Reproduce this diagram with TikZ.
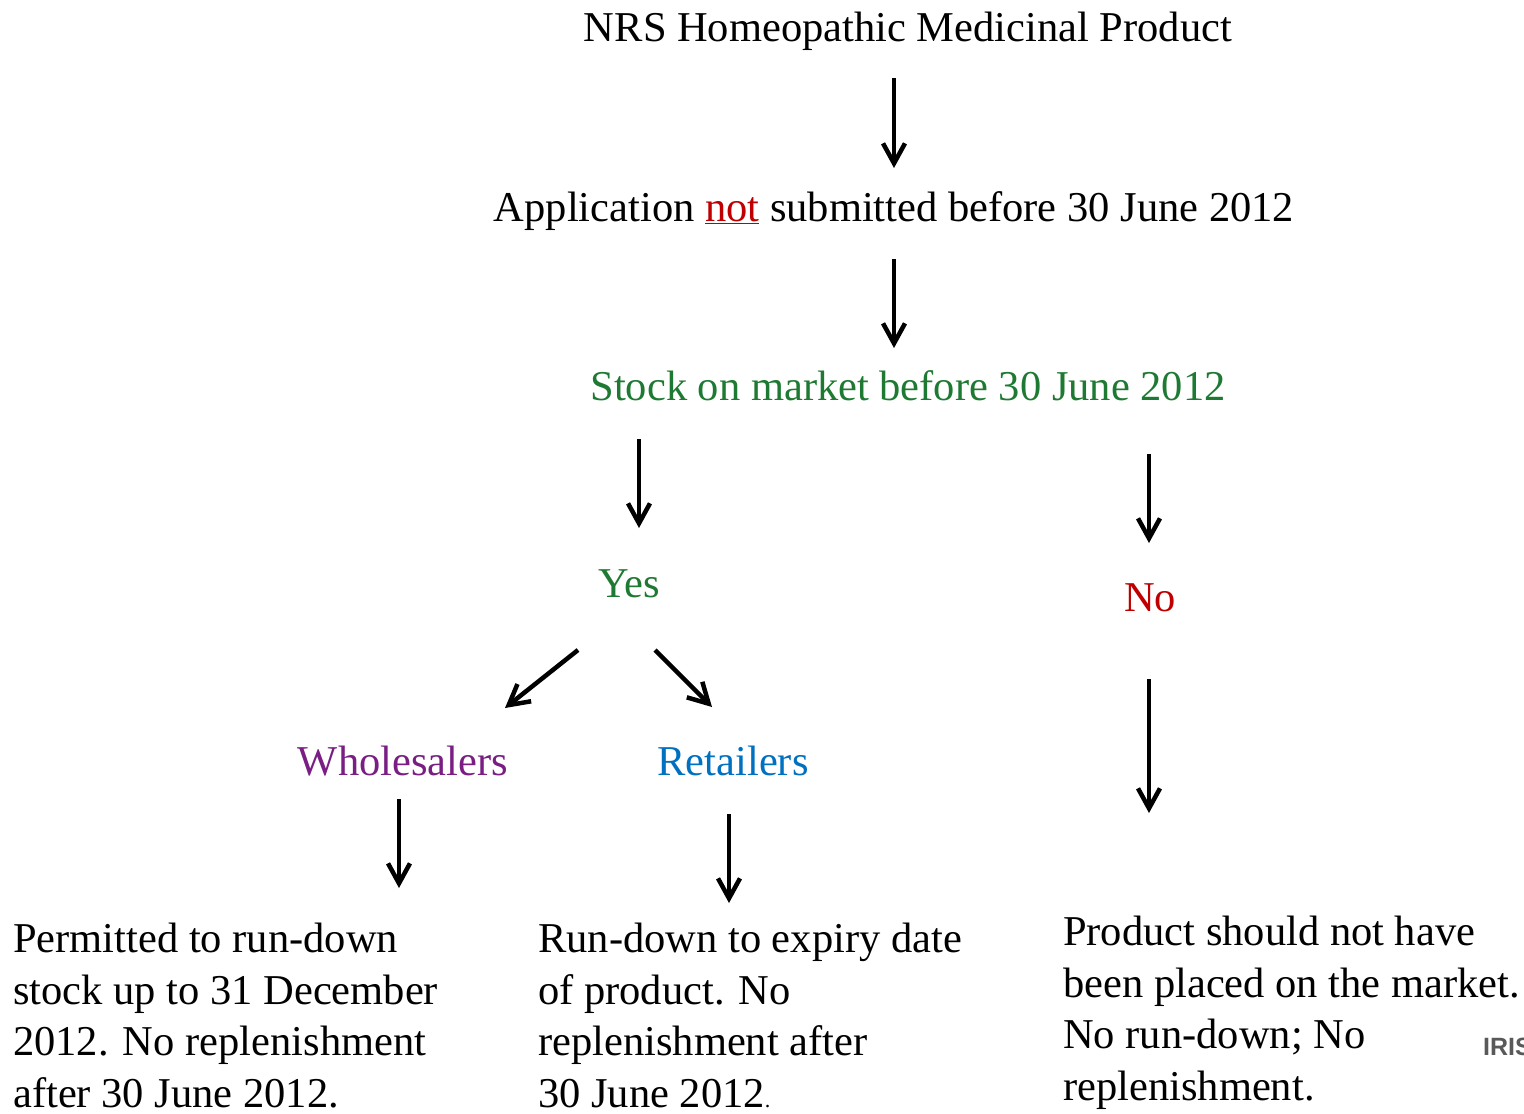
\documentclass[tikz,border=0pt]{standalone}
\usepackage{fontspec}
\setmainfont{Liberation Serif}
\newfontfamily\logofont{Liberation Sans}
\usetikzlibrary{arrows.meta}
\definecolor{cgreen}{RGB}{30,122,50}
\definecolor{cred}{RGB}{192,0,0}
\definecolor{cpurple}{RGB}{122,30,132}
\definecolor{cblue}{RGB}{0,112,192}
\tikzset{
  lbl/.style={inner sep=0pt, anchor=base, font=\fontsize{42.5pt}{51pt}\selectfont},
  blk/.style={inner sep=0pt, anchor=base west, align=left, font=\fontsize{42.5pt}{51.5pt}\selectfont},
  arr/.style={line width=4.5pt, -{Straight Barb[length=20pt,width=22pt,line width=4.5pt]}},
}
\begin{document}
\begin{tikzpicture}[x=1pt,y=-1pt]
\useasboundingbox (0,0) rectangle (1524,1114);
\node[lbl] (title) at (908,41) {NRS Homeopathic Medicinal Product};
\node[lbl] (app) at (894,221) {Application {\color{cred}\underline{not}} submitted before 30 June 2012};
\node[lbl, text=cgreen] (stock) at (908,400) {Stock on market before 30 June 2012};
\node[lbl, text=cgreen] (yes) at (629,597) {Yes};
\node[lbl, text=cred] (no) at (1150,611) {No};
\node[lbl, text=cpurple] (whole) at (403,775) {Wholesalers};
\node[lbl, text=cblue] (retail) at (733,775) {Retailers};
\node[blk] (wtext) at (13,1107) {Permitted to run-down\\stock up to 31 December\\2012. No replenishment\\after 30 June 2012.};
\node[blk] (rtext) at (538,1107) {Run-down to expiry date\\of product. No\\replenishment after\\30 June 2012{\fontsize{22pt}{22pt}\selectfont .}};
\node[blk] (ntext) at (1063,1100) {Product should not have\\been placed on the market.\\No run-down; No\\replenishment.};
\node[inner sep=0pt, anchor=west, text=black!65, font=\logofont\bfseries\fontsize{25pt}{25pt}\selectfont] (logo) at (1483,1047) {IRIS};
% arrow end points
\coordinate (a1s) at (894,78);  \coordinate (a1e) at (894,168);
\coordinate (a2s) at (894,259); \coordinate (a2e) at (894,348);
\coordinate (a3s) at (639,439); \coordinate (a3e) at (639,528);
\coordinate (a4s) at (1149,454); \coordinate (a4e) at (1149,543);
\coordinate (a5s) at (578,650); \coordinate (a5e) at (505,708);
\coordinate (a6s) at (655,650); \coordinate (a6e) at (712,707);
\coordinate (a7s) at (399,799); \coordinate (a7e) at (399,888);
\coordinate (a8s) at (729,814); \coordinate (a8e) at (729,903);
\coordinate (a9s) at (1149,679); \coordinate (a9e) at (1149,813);
\draw[arr] (a1s) -- (a1e);
\draw[arr] (a2s) -- (a2e);
\draw[arr] (a3s) -- (a3e);
\draw[arr] (a4s) -- (a4e);
\draw[arr] (a5s) -- (a5e);
\draw[arr] (a6s) -- (a6e);
\draw[arr] (a7s) -- (a7e);
\draw[arr] (a8s) -- (a8e);
\draw[arr] (a9s) -- (a9e);
\end{tikzpicture}
\end{document}
